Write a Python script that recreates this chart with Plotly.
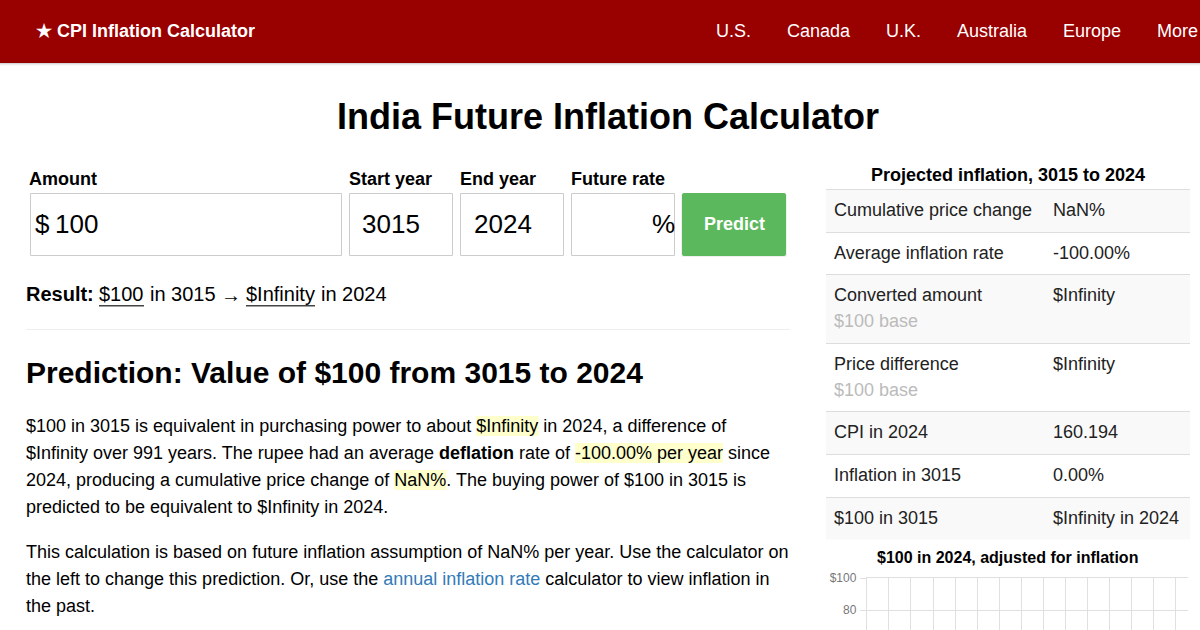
import plotly.graph_objects as go

W, H = 1200, 630
FONT = "Liberation Sans, Arial, sans-serif"

# ---- content ----
site_name = "★ CPI Inflation Calculator"
nav_items = ["U.S.", "Canada", "U.K.", "Australia", "Europe", "More"]
nav_x = [716, 787, 886, 957, 1063, 1157]
page_title = "India Future Inflation Calculator"
form_labels = ["Amount", "Start year", "End year", "Future rate"]
heading = "Prediction: Value of $100 from 3015 to 2024"
table_title = "Projected inflation, 3015 to 2024"
table_labels = ["Cumulative price change", "Average inflation rate", "Converted amount",
                "Price difference", "CPI in 2024", "Inflation in 3015", "$100 in 3015"]
table_values = ["NaN%", "-100.00%", "$Infinity", "$Infinity", "160.194", "0.00%", "$Infinity in 2024"]
table_row_text_y = [210, 253, 295, 364, 432, 475, 518]
table_rule_y = [189.5, 232.5, 274.5, 343.5, 411.5, 454.5, 497.5]
para_lines = [
    (426, "$100 in 3015 is equivalent in purchasing power to about $Infinity in 2024, a difference of"),
    (453, "$Infinity over 991 years. The rupee had an average <b>deflation</b> rate of -100.00% per year since"),
    (480, "2024, producing a cumulative price change of NaN%. The buying power of $100 in 3015 is"),
    (507, "predicted to be equivalent to $Infinity in 2024."),
    (552, "This calculation is based on future inflation assumption of NaN% per year. Use the calculator on"),
    (579, 'the left to change this prediction. Or, use the <span style="color:#337ab7">annual inflation rate</span> calculator to view inflation in'),
    (606, "the past."),
]

# ---- small chart ----
chart_title = "$100 in 2024, adjusted for inflation"
chart_years = [2024, 2025, 2026, 2027, 2028, 2029, 2030, 2031, 2032, 2033, 2034, 2035, 2036, 2037, 2038, 2039]
chart_values = [None] * len(chart_years)   # the page computes NaN/Infinity, so nothing is drawn
y_ticks = [80, 100]
y_tick_labels = ["80", "$100"]


def px(x):
    return x / W


def py(y):
    return 1 - y / H


shapes, annos = [], []


def rect(x0, y0, x1, y1, fill=None, line=None, lw=1, layer="below"):
    shapes.append(dict(type="rect", xref="paper", yref="paper", x0=px(x0), x1=px(x1), y0=py(y0), y1=py(y1),
                       fillcolor=fill or "rgba(0,0,0,0)",
                       line=dict(color=line or "rgba(0,0,0,0)", width=lw if line else 0), layer=layer))


def rounded(x0, y0, x1, y1, r, fill):
    xa, xb, ya, yb = px(x0), px(x1), py(y0), py(y1)
    rx, ry = r / W, r / H
    path = (f"M{xa+rx},{ya} L{xb-rx},{ya} Q{xb},{ya} {xb},{ya-ry} L{xb},{yb+ry} Q{xb},{yb} {xb-rx},{yb} "
            f"L{xa+rx},{yb} Q{xa},{yb} {xa},{yb+ry} L{xa},{ya-ry} Q{xa},{ya} {xa+rx},{ya} Z")
    shapes.append(dict(type="path", xref="paper", yref="paper", path=path, fillcolor=fill,
                       line=dict(width=0), layer="below"))


def text(x, y, s, size=18, color="#000", bold=False, anchor="left"):
    annos.append(dict(xref="paper", yref="paper", x=px(x), y=py(y), text=f"<b>{s}</b>" if bold else s,
                      showarrow=False, xanchor=anchor, yanchor="middle", borderpad=0, borderwidth=0,
                      font=dict(family=FONT, size=size, color=color)))


# nav bar
for i, a in enumerate([0.02, 0.05, 0.09]):
    rect(0, 63, W, 66 - i, fill=f"rgba(0,0,0,{a})")
rect(0, 0, W, 63, fill="#990000")
text(36, 31, site_name, size=18, color="#fff", bold=True)
for x, s in zip(nav_x, nav_items):
    text(x, 31, s, size=18, color="#fff")

# title
text(608, 116, page_title, size=36, bold=True, anchor="center")

# form
for x, s in zip([29.4, 349, 460, 571], form_labels):
    text(x, 179, s, size=18, bold=True)
for x0, x1 in [(30.5, 341.5), (349.5, 452.5), (460.5, 563.5), (571.5, 674.5)]:
    rect(x0, 193.5, x1, 255.5, fill="#fff", line="#cccccc", lw=1)
text(34.6, 224, "$", size=26)
text(55, 224, "100", size=26)
text(362, 224, "3015", size=26)
text(473.5, 224, "2024", size=26)
text(674.6, 224, "%", size=26, anchor="right")
rounded(681, 193.5, 787, 257, 2, "rgba(0,0,0,0.06)")
rounded(682, 193, 786, 256, 2, "#5cb85c")
text(734, 224, "Predict", size=18, color="#fff", bold=True, anchor="center")

# result line
text(26, 294, "<b>Result:</b>", size=20)
text(99, 294, "$100", size=20)
text(150, 294, "in 3015", size=20)
text(221, 294.5, "→", size=20)
text(246, 294, "$Infinity", size=20)
text(321, 294, "in 2024", size=20)
rect(99, 305, 144, 306.6, fill="#444")
rect(246, 305, 315, 306.6, fill="#444")
rect(26, 329, 790, 330, fill="#eeeeee")

# heading
text(26, 372.4, heading, size=30, bold=True)

# highlights
rect(476, 416, 538.5, 436, fill="#ffffcc")
rect(575, 443, 723, 463, fill="#ffffcc")
rect(394, 470, 446.5, 490, fill="#ffffcc")
for y, s in para_lines:
    text(26, y, s, size=18)

# table
text(1007.6, 175, table_title, size=18, bold=True, anchor="center")
rect(826, 189.5, 1190, 232.5, fill="#f9f9f9")
rect(826, 274.5, 1190, 343.5, fill="#f9f9f9")
rect(826, 411.5, 1190, 454.5, fill="#f9f9f9")
rect(826, 497.5, 1190, 539.5, fill="#f9f9f9")
for y in table_rule_y:
    rect(826, y - 0.5, 1190, y + 0.5, fill="#dddddd")
for y, l, v in zip(table_row_text_y, table_labels, table_values):
    text(834, y, l, size=18, color="#222")
    text(1053, y, v, size=18, color="#222")
text(834, 321, "$100 base", size=18, color="#bbbbbb")
text(834, 390, "$100 base", size=18, color="#bbbbbb")

# chart title
text(1007.6, 557.4, chart_title, size=16, bold=True, anchor="center")

fig = go.Figure(go.Scatter(x=chart_years, y=chart_values, mode="lines", line=dict(color="#990000"),
                           showlegend=False, hoverinfo="skip"))
GRID = "#e0e0e0"
fig.update_layout(
    width=W, height=H, autosize=False, margin=dict(l=0, r=0, t=0, b=0),
    paper_bgcolor="#fff", plot_bgcolor="rgba(0,0,0,0)", shapes=shapes, annotations=annos, showlegend=False,
    xaxis=dict(domain=[px(866.8), px(1187.7)], range=[2024, 2024 + (1187.7 - 866.8) / 22.07], side="top",
               tickmode="array", tickvals=chart_years, ticktext=[""] * len(chart_years),
               showgrid=True, gridcolor=GRID, gridwidth=1, zeroline=False, ticks="",
               showline=True, linecolor=GRID, linewidth=1,
               anchor="y", fixedrange=True),
    yaxis=dict(domain=[0, py(578)], range=[100 - (630 - 578) / 32 * 20, 100],
               tickmode="array", tickvals=y_ticks, ticktext=y_tick_labels,
               showgrid=True, gridcolor=GRID, gridwidth=1, zeroline=False,
               showline=True, linecolor=GRID, linewidth=1,
               ticks="outside", ticklen=6, tickcolor=GRID, tickwidth=1, ticklabelstandoff=1,
               tickfont=dict(family=FONT, size=12, color="#777"), anchor="x", fixedrange=True,
               automargin=False),
)
fig.write_html("out.html", config=dict(displayModeBar=False),
               post_script="document.body.style.margin='0';document.body.style.overflow='hidden';")
